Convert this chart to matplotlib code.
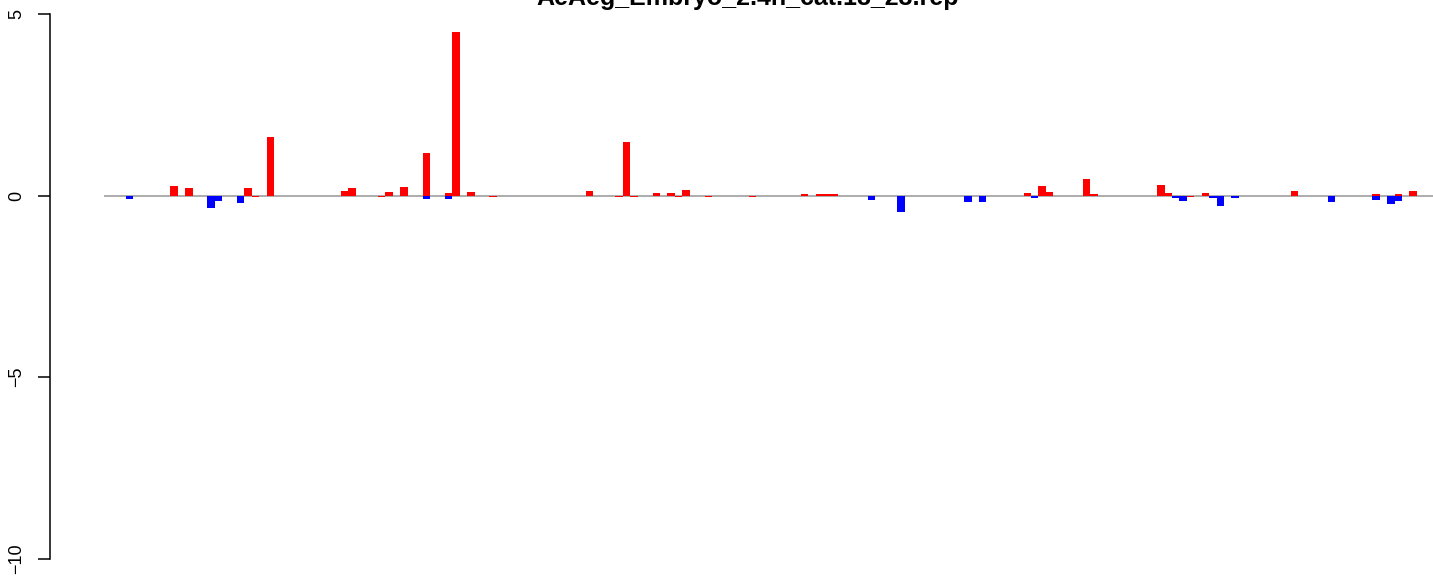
import numpy as np
import matplotlib
matplotlib.use("Agg")
import matplotlib.pyplot as plt

plt.rcParams['font.family'] = ['Liberation Sans', 'DejaVu Sans']

title = "AeAeg_Embryo_2.4h_cat.18_23.rep"
n_slots = 180

# red bars: slot index -> value
red_slots = [9, 11, 19, 20, 22, 32, 33, 37, 38, 40, 43, 46, 47, 49, 52,
             65, 69, 70, 71, 74, 76, 77, 78, 81, 87, 94, 96, 97, 98,
             124, 126, 127, 132, 133, 142, 143, 146, 148, 160, 171, 174, 176]
red_vals = [0.27, 0.21, 0.21, -0.04, 1.62, 0.13, 0.21, -0.04, 0.10, 0.24, 1.18, 0.07, 4.51, 0.10, -0.04,
            0.13, -0.04, 1.48, -0.04, 0.07, 0.07, -0.04, 0.16, -0.04, -0.04, 0.04, 0.04, 0.04, 0.04,
            0.07, 0.27, 0.10, 0.46, 0.04, 0.29, 0.07, -0.04, 0.07, 0.13, 0.04, 0.04, 0.13]

# blue bars
blue_slots = [3, 14, 15, 18, 43, 46, 103, 107, 116, 118, 125, 144, 145, 149, 150,
              152, 165, 171, 173, 174]
blue_vals = [-0.10, -0.34, -0.15, -0.20, -0.09, -0.09, -0.12, -0.45, -0.17, -0.17, -0.06, -0.06, -0.15, -0.06, -0.28,
             -0.06, -0.17, -0.12, -0.23, -0.15]

W, H = 1433, 577
fig = plt.figure(figsize=(W / 100, H / 100), dpi=100)

# axes area in pixels
left_px, right_px = 103.5, 1433
top_px, bot_px = 14.3, 558.5
ax = fig.add_axes([left_px / W, 1 - bot_px / H, (right_px - left_px) / W, (bot_px - top_px) / H])

pitch = 7.42
ax.set_xlim(0, (right_px - left_px) / pitch)
ax.set_ylim(-10, 5)

ax.axhline(0, color='#a6a6a6', lw=1.3, zorder=1)

red_full = np.zeros(n_slots)
red_full[red_slots] = red_vals
blue_full = np.zeros(n_slots)
blue_full[blue_slots] = blue_vals
x = np.arange(n_slots)

ax.bar(x, red_full, width=1.0, align='edge', color='#ff0000', linewidth=0, zorder=2)
ax.bar(x, blue_full, width=1.0, align='edge', color='#0000ff', linewidth=0, zorder=3)

for s in ['top', 'right', 'bottom']:
    ax.spines[s].set_visible(False)
# y axis sits at x=50px, outward offset is in points
ax.spines['left'].set_position(('outward', (left_px - 50) * 72 / 100))
ax.spines['left'].set_bounds(-10, 5)
ax.spines['left'].set_linewidth(1.1)
ax.set_xticks([])
ax.set_yticks([-10, -5, 0, 5])
ax.tick_params(axis='y', length=9, width=1.1, labelsize=13, pad=9)
for lab in ax.get_yticklabels():
    lab.set_rotation(90)
    lab.set_va('center')

fig.text(748 / W, 1 - 5 / H, title, ha='center', va='baseline',
         fontsize=18, fontweight='bold')

fig.savefig("out.png", dpi=100)
